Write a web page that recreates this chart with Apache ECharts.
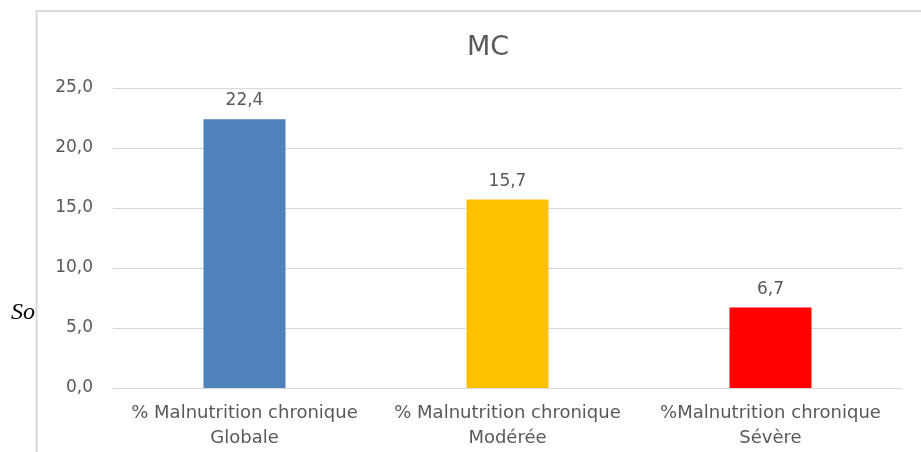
<!DOCTYPE html>
<html>
<head>
<meta charset="utf-8">
<style>
  html, body { margin: 0; padding: 0; background: #ffffff; }
  #chart { width: 921px; height: 452px; }
</style>
<script src="https://cdn.jsdelivr.net/npm/echarts@6/dist/echarts.min.js"></script>
</head>
<body>
<div id="chart"></div>
<script>
// Chronic malnutrition rates (%)
const categories = [
  '% Malnutrition chronique\nGlobale',
  '% Malnutrition chronique\nModérée',
  '%Malnutrition chronique\nSévère'
];
const values = [22.4, 15.7, 6.7];
const barColors = ['#4F81BD', '#FFC000', '#FF0000'];
const yTicks = [0, 5, 25];

const fmt = v => v.toFixed(1).replace('.', ',');
const textColor = '#595959';
const font = '"DejaVu Sans", "Noto Sans", sans-serif';

const chart = echarts.init(document.getElementById('chart'));
chart.setOption({
  animation: false,
  backgroundColor: '#ffffff',
  title: {
    text: 'MC',
    left: 483,
    top: 29,
    textAlign: 'center',
    textStyle: { fontFamily: font, fontSize: 27, fontWeight: 'normal', color: textColor }
  },
  graphic: [
    {
      type: 'text',
      left: 11,
      top: 301,
      z: 0,
      style: {
        text: 'So',
        font: 'italic 24px "Liberation Serif", "DejaVu Serif", serif',
        fill: '#000000'
      }
    },
    {
      type: 'rect',
      z: 10,
      shape: { x: 36.5, y: 11, width: 900, height: 460 },
      style: { fill: 'none', stroke: '#D9D9D9', lineWidth: 2 },
      silent: true
    },
    {
      type: 'rect',
      z: 9,
      shape: { x: 37.5, y: 290, width: 10, height: 40 },
      style: { fill: '#ffffff' },
      silent: true
    }
  ],
  grid: { left: 113, right: 19, top: 88, bottom: 64 },
  xAxis: {
    type: 'category',
    data: categories,
    axisLine: { show: true, lineStyle: { color: '#D9D9D9', width: 1 } },
    axisTick: { show: false },
    axisLabel: {
      interval: 0,
      margin: 13,
      color: textColor,
      fontFamily: font,
      fontSize: 18,
      lineHeight: 25
    }
  },
  yAxis: {
    type: 'value',
    min: yTicks[0],
    max: yTicks[2],
    interval: yTicks[1],
    axisLine: { show: false },
    axisTick: { show: false },
    splitLine: { lineStyle: { color: '#D9D9D9', width: 1 } },
    axisLabel: {
      margin: 20,
      color: textColor,
      fontFamily: font,
      fontSize: 17,
      formatter: v => fmt(v)
    }
  },
  series: [{
    type: 'bar',
    barWidth: 82,
    data: values.map((v, i) => ({ value: v, itemStyle: { color: barColors[i] } })),
    label: {
      show: true,
      position: 'top',
      distance: 10,
      color: textColor,
      fontFamily: font,
      fontSize: 17,
      formatter: p => fmt(p.value)
    }
  }]
});
</script>
</body>
</html>
